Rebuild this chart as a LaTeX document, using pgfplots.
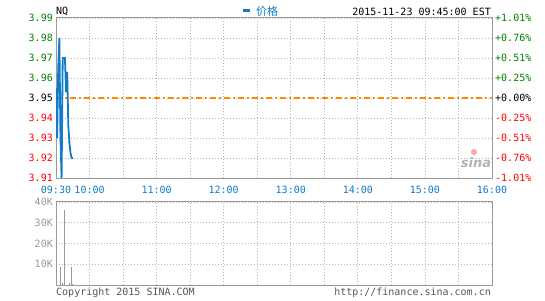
\documentclass[border=0pt]{standalone}
\usepackage{pgfplots}
\pgfplotsset{compat=1.18}
\usepackage{fontspec}
\setmainfont{DejaVu Sans Mono}
\newfontfamily\cjk{Noto Sans CJK SC}
\newfontfamily\sinafont{DejaVu Sans}
\definecolor{sblue}{RGB}{16,123,200}
\definecolor{sgreen}{RGB}{0,128,0}
\definecolor{sred}{RGB}{255,0,0}
\definecolor{sorange}{RGB}{255,140,0}
\definecolor{axgray}{RGB}{153,153,153}
\definecolor{gridgray}{RGB}{180,180,180}
\definecolor{txtgray}{RGB}{85,85,85}
\begin{document}
\begin{tikzpicture}
\useasboundingbox (0,0) rectangle (545pt,300pt);
\pgfplotsset{
  sinabase/.style={
    scale only axis, width=436pt, xmin=0, xmax=390,
    axis line style={draw=axgray, line width=1pt},
    major tick length=0pt, minor tick length=0pt,
    tick style={draw=none},
    grid=both,
    major grid style={draw=gridgray, line width=0.8pt, dash pattern=on 1pt off 2pt},
    minor grid style={draw=gridgray, line width=0.8pt, dash pattern=on 1pt off 2pt},
    tick label style={font=\fontsize{10}{10}\selectfont},
    /pgf/number format/assume math mode=true,
    scaled y ticks=false,
  }
}
% ---- price panel ----
\begin{axis}[sinabase, at={(56pt,122pt)}, anchor=south west, height=160pt,
  ymin=3.91, ymax=3.99,
  ytick={3.91,3.92,3.93,3.94,3.95,3.96,3.97,3.98,3.99},
  yticklabels={\textcolor{sred}{3.91},\textcolor{sred}{3.92},\textcolor{sred}{3.93},\textcolor{sred}{3.94},\textcolor{black}{3.95},\textcolor{sgreen}{3.96},\textcolor{sgreen}{3.97},\textcolor{sgreen}{3.98},\textcolor{sgreen}{3.99}},
  yticklabel style={inner sep=0pt, xshift=-3pt},
  xtick={0,30,90,150,210,270,330,390},
  xticklabels={09:30,10:00,11:00,12:00,13:00,14:00,15:00,16:00},
  minor xtick={60,120,180,240,300,360},
  xticklabel style={text=sblue, inner sep=0pt, yshift=-8pt},
  clip=true]
\addplot[draw=sorange, line width=1.2pt, dash pattern=on 6pt off 3pt on 2pt off 3pt] coordinates {(0,3.95) (390,3.95)};
\addplot[draw=sblue, line width=1.8pt, line join=miter] coordinates {
(0,3.955) (1,3.93) (2,3.965) (3,3.98) (4,3.93) (5,3.91) (6,3.97) (7,3.97)
(8,3.97) (9,3.953) (10,3.963) (11,3.9365) (12,3.9275) (13,3.9225) (14,3.92) (15,3.92)};
\end{axis}
% right percentage labels
\begin{axis}[sinabase, at={(56pt,122pt)}, anchor=south west, height=160pt,
  ymin=3.91, ymax=3.99, grid=none,
  axis line style={draw=none},
  xtick=\empty,
  ytick={3.91,3.92,3.93,3.94,3.95,3.96,3.97,3.98,3.99},
  yticklabel pos=right,
  yticklabels={\textcolor{sred}{-1.01\%},\textcolor{sred}{-0.76\%},\textcolor{sred}{-0.51\%},\textcolor{sred}{-0.25\%},\textcolor{black}{+0.00\%},\textcolor{sgreen}{+0.25\%},\textcolor{sgreen}{+0.51\%},\textcolor{sgreen}{+0.76\%},\textcolor{sgreen}{+1.01\%}},
  yticklabel style={inner sep=0pt, xshift=3pt}]
\end{axis}
% ---- volume panel ----
\begin{axis}[sinabase, at={(56pt,15pt)}, anchor=south west, height=83pt,
  ymin=0, ymax=40000,
  ytick={10000,20000,30000,40000},
  yticklabels={10K,20K,30K,40K},
  yticklabel style={text=axgray, inner sep=0pt, xshift=-3pt},
  xtick={0,30,90,150,210,270,330,390},
  xticklabels={},
  minor xtick={60,120,180,240,300,360}]
\addplot[ycomb, draw=axgray, line width=1pt] coordinates {
(3.8,8600) (5.6,1000) (7.4,36000) (11.9,800) (13.7,8700) (14.9,500)};
\end{axis}
% ---- texts ----
\node[anchor=west, inner sep=0pt, font=\fontsize{10}{10}\selectfont] at (56pt,288.5pt) {NQ};
\draw[sblue, line width=3pt] (243pt,289pt) -- (250pt,289pt);
\node[anchor=west, inner sep=0pt, text=sblue, font=\cjk\fontsize{11}{11}\selectfont] at (256pt,288.5pt) {价格};
\node[anchor=east, inner sep=0pt, font=\fontsize{10}{10}\selectfont] at (491pt,288pt) {2015-11-23 09:45:00 EST};
\node[anchor=west, inner sep=0pt, text=txtgray, font=\fontsize{10}{10}\selectfont] at (56pt,7.5pt) {Copyright 2015 SINA.COM};
\node[anchor=east, inner sep=0pt, text=txtgray, font=\fontsize{10}{10}\selectfont] at (491pt,7.5pt) {http://finance.sina.com.cn};
\node[inner sep=0pt, text=gray!60, font=\sinafont\bfseries\itshape\fontsize{13}{13}\selectfont] at (476pt,137pt) {sina};
\fill[red!35] (474pt,148pt) circle (3pt);
\end{tikzpicture}
\end{document}
